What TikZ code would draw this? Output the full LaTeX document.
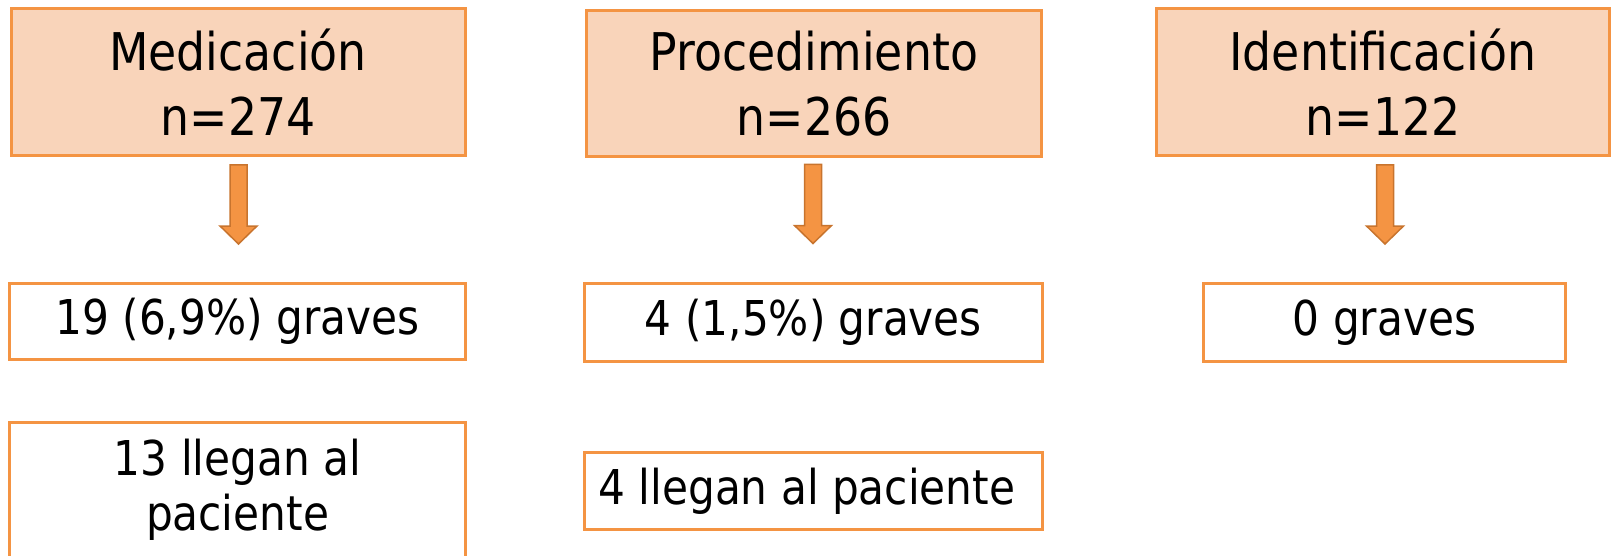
\documentclass[tikz,border=0pt]{standalone}
\usepackage{fontspec}
\setmainfont{DejaVu Sans}[FakeStretch=0.88]
\usetikzlibrary{calc}
\definecolor{hdrfill}{HTML}{F9D4BA}
\definecolor{boxline}{HTML}{F49443}
\definecolor{arrfill}{HTML}{F49443}
\definecolor{arrline}{HTML}{C8742E}
\tikzset{
  hdrbox/.style={draw=boxline, line width=3pt, fill=hdrfill, inner sep=0pt, outer sep=0pt,
    align=center, font=\fontsize{52}{65}\selectfont},
  resbox/.style={draw=boxline, line width=3pt, fill=white, inner sep=0pt, outer sep=0pt,
    align=center, font=\fontsize{48}{55}\selectfont},
  arrowstyle/.style={fill=arrfill, draw=arrline, line width=1.5pt, line join=miter},
  downarrow/.pic={\path[arrowstyle] (-8.5,0) -- (8.5,0) -- (8.5,61) -- (18.5,61) -- (0,79)
    -- (-18.5,61) -- (-8.5,61) -- cycle;}
}
\begin{document}
\begin{tikzpicture}[x=1pt,y=-1pt]
\useasboundingbox (0,0) rectangle (1611,556);
\clip (0,0) rectangle (1611,556);
\node[hdrbox, minimum width=454pt, minimum height=147pt] (med) at (238,82) {Medicación\\n=274};
\node[hdrbox, minimum width=455pt, minimum height=146pt] (proc) at (814,83.5) {Procedimiento\\n=266};
\node[hdrbox, minimum width=453pt, minimum height=147pt] (ide) at (1383,82.5) {Identificación\\n=122};
\pic at ($(med.south)+(0.5,9.5)$) {downarrow};
\pic at ($(proc.south)+(-1,8)$) {downarrow};
\pic at ($(ide.south)+(2,9)$) {downarrow};
\node[resbox, minimum width=456pt, minimum height=76pt] (medg) at (237.5,321.5) {19 (6,9\%) graves};
\node[resbox, minimum width=456pt, minimum height=134.5pt] (medp) at (237.5,489.75) {13 llegan al\\paciente};
\node[resbox, minimum width=458pt, minimum height=78pt] (procg) at (813.5,322.5) {4 (1,5\%) graves};
\node[resbox, minimum width=458pt, minimum height=77pt] (procp) at (813.5,491) {4 llegan al paciente~};
\node[resbox, minimum width=362pt, minimum height=78pt] (ideg) at (1384.5,322.5) {0 graves};
\end{tikzpicture}
\end{document}
